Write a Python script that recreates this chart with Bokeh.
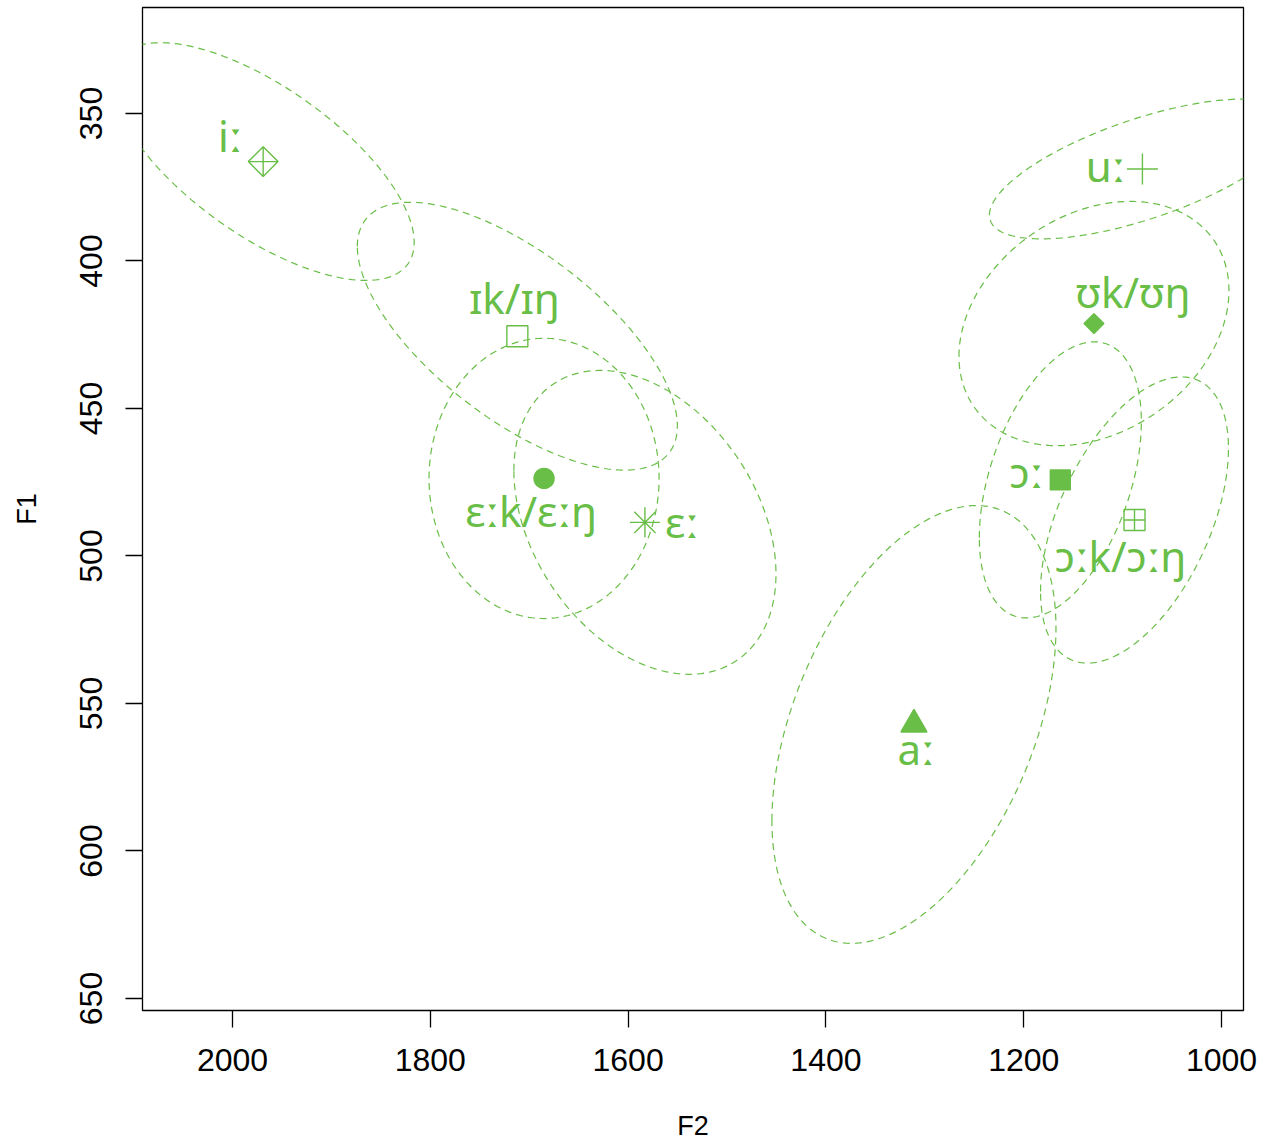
import math
import numpy as np
from bokeh.plotting import figure
from bokeh.models import Range1d, FixedTicker, ColumnDataSource
from bokeh.embed import file_html
from bokeh.resources import INLINE
from bokeh.core.properties import value

# ---- data ----
vowels = ["iː", "ɪk/ɪŋ", "ɛːk/ɛːŋ", "ɛː", "uː", "ʊk/ʊŋ", "ɔː", "ɔːk/ɔːŋ", "aː"]
f2_mean = [1969, 1712, 1685, 1583, 1080, 1129, 1163, 1088, 1311]
f1_mean = [366.3, 425.5, 473.7, 488.6, 368.8, 421.2, 474.2, 487.8, 557.1]
# ellipse half-extents (F2, F1) and F2/F1 correlation
ell_f2 = [152.7, 161.8, 116.3, 132.5, 154.7, 136.5, 81.9, 95.0, 143.6]
ell_f1 = [40.3, 45.4, 47.5, 51.5, 23.7, 41.4, 46.8, 48.5, 74.2]
ell_rho = [-0.68, -0.67, 0.0, -0.34, 0.66, 0.27, 0.42, 0.50, 0.44]
x_ticks = [1000, 1200, 1400, 1600, 1800, 2000]
y_ticks = [350, 400, 450, 500, 550, 600, 650]

# ---- styles ----
GREEN = "#69BE47"
FONT = "Liberation Sans"
LABEL_FONT = "Noto Sans"
marker_types = ["square_x", "square", "circle", "asterisk", "cross", "square", "square", "square_cross", "triangle"]
marker_angle = [math.pi / 4, 0, 0, 0, 0, math.pi / 4, 0, 0, 0]
marker_filled = [False, False, True, False, False, True, True, False, True]
marker_size = [21, 21, 20, 30, 31, 14, 20, 21, 26]
lab_dx = [-33, -3, -13, 37, -37, 39, -34, -14, 2]
lab_dy = [-26, -39, 32, -1, -3, -32, -8, 35, 24]

p = figure(width=1273, height=1143, output_backend="svg", toolbar_location=None,
           x_range=Range1d(2091.0, 977.8), y_range=Range1d(654.07, 314.07),
           min_border_left=142, min_border_right=30, min_border_top=7, min_border_bottom=133,
           background_fill_color="white", border_fill_color="white")
p.grid.visible = False
p.outline_line_color = "black"
p.outline_line_width = 1.3

# ellipses
t = np.linspace(0, 2 * np.pi, 241)
for c2, c1, s2, s1, r in zip(f2_mean, f1_mean, ell_f2, ell_f1, ell_rho):
    d = math.acos(r)
    xs = c2 + s2 * np.cos(t)
    ys = c1 + s1 * np.cos(t + d)
    p.line(xs, ys, line_color=GREEN, line_width=1.2, line_dash="7 5")

# markers
for i in range(len(vowels)):
    p.scatter([f2_mean[i]], [f1_mean[i]], marker=marker_types[i], size=marker_size[i],
              angle=marker_angle[i], line_color=GREEN, line_width=1.4,
              fill_color=GREEN if marker_filled[i] else None)

# labels
src = ColumnDataSource(dict(x=f2_mean, y=f1_mean, t=vowels, dx=lab_dx, dy=lab_dy))
p.text(x="x", y="y", text="t", x_offset="dx", y_offset="dy", source=src,
       text_font=value(LABEL_FONT), text_font_size="42px", text_color=GREEN,
       text_align="center", text_baseline="alphabetic")

# axes
for ax in (p.xaxis[0], p.yaxis[0]):
    ax.axis_line_color = None
    ax.major_tick_out = 17
    ax.major_tick_in = 0
    ax.major_tick_line_color = "black"
    ax.major_tick_line_width = 1.3
    ax.minor_tick_line_color = None
    ax.major_label_text_font = FONT
    ax.major_label_text_font_size = "32px"
    ax.major_label_text_color = "black"
    ax.axis_label_text_font = FONT
    ax.axis_label_text_font_size = "27px"
    ax.axis_label_text_font_style = "normal"
    ax.axis_label_text_color = "black"

p.xaxis.ticker = FixedTicker(ticks=x_ticks)
p.yaxis.ticker = FixedTicker(ticks=y_ticks)
p.xaxis.axis_label = "F2"
p.yaxis.axis_label = "F1"
p.xaxis.major_label_standoff = 21
p.yaxis.major_label_standoff = 23
p.yaxis.major_label_orientation = "vertical"
p.xaxis.axis_label_standoff = 37
p.yaxis.axis_label_standoff = 36

open("out.html", "w").write(file_html(p, INLINE))
